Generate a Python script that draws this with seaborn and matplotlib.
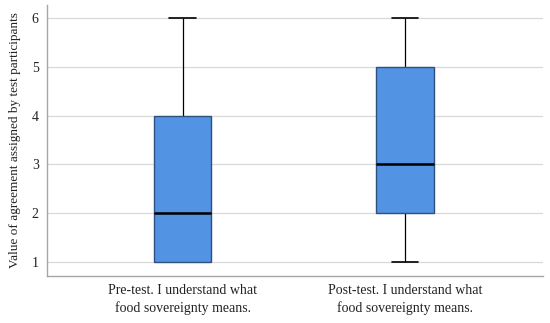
import numpy as np
import pandas as pd
import seaborn as sns
import matplotlib
matplotlib.use("Agg")
import matplotlib.pyplot as plt

# category labels and participant answers (chosen to give the drawn box stats)
categories = ["Pre-test. I understand what\nfood sovereignty means.",
              "Post-test. I understand what\nfood sovereignty means."]
pre_values = [1, 1, 1, 2, 2, 3, 4, 5, 6]
post_values = [1, 2, 2, 3, 3, 4, 5, 5, 6]
y_ticks = [1, 2, 3, 4, 5, 6]

df = pd.DataFrame({
    "test": [categories[0]] * len(pre_values) + [categories[1]] * len(post_values),
    "value": pre_values + post_values,
})

sns.set_style("white")
plt.rcParams["font.family"] = ["Liberation Serif", "DejaVu Serif"]

fig = plt.figure(figsize=(5.5, 3.23), dpi=100)
ax = fig.add_axes([0.0855, 0.1455, 0.9015, 0.839])

sns.boxplot(data=df, x="test", y="value", ax=ax, width=0.257,
            color="#5293e3", saturation=1, linewidth=1,
            boxprops=dict(facecolor="#5293e3", edgecolor="#2f4f7f", zorder=3),
            whiskerprops=dict(color="black", linewidth=0.9, zorder=2),
            capprops=dict(color="black", linewidth=1.2, zorder=2),
            medianprops=dict(color="black", linewidth=1.8, zorder=4),
            capwidths=0.12, whis=1.5, showfliers=False)

ax.set_xlim(-0.61, 1.62)
ax.set_ylim(0.713, 6.27)
ax.set_yticks(y_ticks)
ax.yaxis.grid(True, color="#d9d9d9", linewidth=0.9, zorder=0)
ax.set_axisbelow(True)
ax.tick_params(axis="both", length=0, labelsize=10, colors="#222222", pad=6)
for lab in ax.get_xticklabels():
    lab.set_linespacing(1.35)
ax.set_xlabel("")
ax.set_ylabel("Value of agreement assigned by test participants", fontsize=9.5,
              color="#222222", labelpad=8)
for s in ["top", "right"]:
    ax.spines[s].set_visible(False)
for s in ["left", "bottom"]:
    ax.spines[s].set_color("#a6a6a6")
    ax.spines[s].set_linewidth(1)

fig.savefig("out.png", dpi=100)
